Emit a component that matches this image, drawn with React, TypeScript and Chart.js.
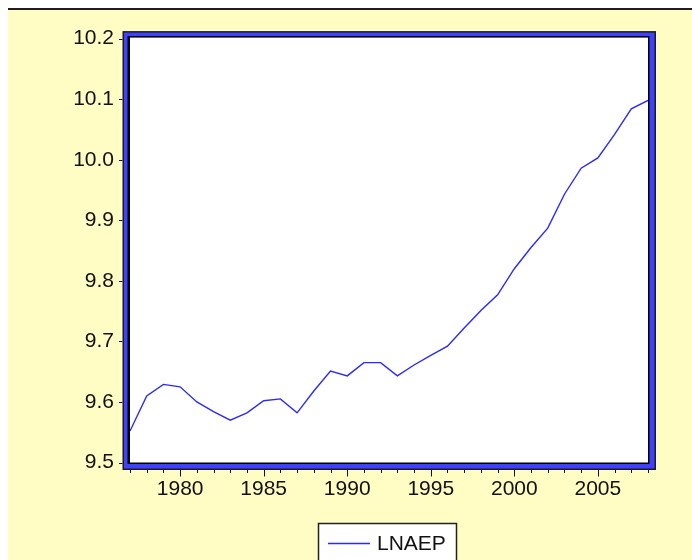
import React, { useEffect, useRef } from "react";
import { Chart, registerables } from "chart.js";

Chart.register(...registerables);

const years = [
  1977, 1978, 1979, 1980, 1981, 1982, 1983, 1984, 1985, 1986, 1987, 1988,
  1989, 1990, 1991, 1992, 1993, 1994, 1995, 1996, 1997, 1998, 1999, 2000,
  2001, 2002, 2003, 2004, 2005, 2006, 2007, 2008,
];
const lnaep = [
  9.552, 9.61, 9.629, 9.625, 9.6, 9.584, 9.57, 9.582, 9.602, 9.605, 9.582, 9.618,
  9.651, 9.643, 9.665, 9.665, 9.643, 9.661, 9.677, 9.692, 9.722, 9.751, 9.777, 9.82,
  9.855, 9.887, 9.943, 9.986, 10.003, 10.042, 10.084, 10.098,
];
const xTickLabels = [1980, 1985, 1990, 1995, 2000, 2005];
const yTickLabels = [9.5, 9.6, 9.7, 9.8, 9.9, 10.0, 10.1, 10.2];
const seriesName = "LNAEP";

const FONT = '"Liberation Sans", Arial, sans-serif';
const BLUE_LINE = "#2a2aff";
const BLUE_FRAME = "#4040ff";

const framePlugin = {
  id: "eviewsFrame",
  beforeDraw(chart: any) {
    const { ctx, chartArea } = chart;
    const { left, top, right, bottom } = chartArea;
    const oL = left - 7.5, oT = top - 7.5, oR = right + 8, oB = bottom + 7.5;
    ctx.save();
    // outer dark edge
    ctx.fillStyle = "#1c1c1c";
    ctx.fillRect(oL, oT, oR - oL, oB - oT);
    // blue band
    ctx.fillStyle = BLUE_FRAME;
    ctx.fillRect(oL + 1.5, oT + 1.5, oR - oL - 3, oB - oT - 3);
    // inner black
    ctx.fillStyle = "#000";
    ctx.fillRect(left - 2.5, top - 2.5, right - left + 4, bottom - top + 4);
    // white plot area
    ctx.fillStyle = "#fff";
    ctx.fillRect(left, top - 1, right - left, bottom - top + 1);

    // tick marks
    ctx.strokeStyle = "#111";
    ctx.lineWidth = 1;
    const ys = chart.scales.y;
    yTickLabels.forEach((v) => {
      const py = Math.round(ys.getPixelForValue(v)) + 0.5;
      ctx.beginPath();
      ctx.moveTo(oL - 3.5, py);
      ctx.lineTo(oL, py);
      ctx.stroke();
    });
    const xs = chart.scales.x;
    years.forEach((yr) => {
      const px = Math.round(xs.getPixelForValue(yr)) + 0.5;
      const major = xTickLabels.includes(yr);
      ctx.beginPath();
      ctx.moveTo(px, oB);
      ctx.lineTo(px, oB + (major ? 6.5 : 3));
      ctx.stroke();
    });
    ctx.restore();
  },
  afterDraw(chart: any) {
    const { ctx } = chart;
    ctx.save();
    // legend box
    const bx = 310.5, by = 513.5, bw = 138, bh = 60;
    ctx.fillStyle = "#fff";
    ctx.fillRect(bx, by, bw, bh);
    ctx.strokeStyle = "#222";
    ctx.lineWidth = 1.5;
    ctx.strokeRect(bx, by, bw, bh);
    ctx.strokeStyle = BLUE_LINE;
    ctx.lineWidth = 1.4;
    ctx.beginPath();
    ctx.moveTo(320, 533.5);
    ctx.lineTo(362, 533.5);
    ctx.stroke();
    ctx.fillStyle = "#111";
    ctx.font = `21px ${FONT}`;
    ctx.textAlign = "left";
    ctx.textBaseline = "middle";
    ctx.fillText(seriesName, 369, 534);
    ctx.restore();
  },
};

export default function App() {
  const ref = useRef<HTMLCanvasElement | null>(null);
  useEffect(() => {
    if (!ref.current) return;
    const chart = new Chart(ref.current, {
      type: "line",
      data: {
        datasets: [
          {
            label: seriesName,
            data: years.map((yr, i) => ({ x: yr, y: lnaep[i] })),
            borderColor: BLUE_LINE,
            borderWidth: 1.4,
            pointRadius: 0,
            tension: 0,
            fill: false,
          },
        ],
      },
      options: {
        animation: false,
        responsive: false,
        devicePixelRatio: 1,
        layout: { padding: { left: 0, right: 44, top: 28.5, bottom: 0 } },
        plugins: { legend: { display: false }, tooltip: { enabled: false } },
        scales: {
          x: {
            type: "linear",
            min: 1977,
            max: 2008,
            grid: { display: false, drawTicks: false },
            border: { display: false },
            afterBuildTicks: (s: any) => {
              s.ticks = xTickLabels.map((v) => ({ value: v }));
            },
            afterFit: (s: any) => {
              s.height = 97.5;
            },
            ticks: {
              color: "#111",
              padding: 14,
              maxRotation: 0,
              autoSkip: false,
              font: { family: FONT, size: 21 },
              callback: (v: any) => String(v),
            },
          },
          y: {
            type: "linear",
            min: 9.5,
            max: 10.2,
            grid: { display: false, drawTicks: false },
            border: { display: false },
            afterBuildTicks: (s: any) => {
              s.ticks = yTickLabels.map((v) => ({ value: v }));
            },
            afterFit: (s: any) => {
              s.width = 122;
            },
            ticks: {
              color: "#111",
              padding: 16,
              autoSkip: false,
              font: { family: FONT, size: 21 },
              callback: (v: any) => Number(v).toFixed(1),
            },
          },
        },
      },
      plugins: [framePlugin],
    });
    return () => chart.destroy();
  }, []);

  return (
    <div
      style={{
        position: "fixed",
        left: 8,
        top: 8,
        width: 684,
        height: 552,
        background: "#fffcc4",
        borderTop: "2px solid #1e1e1e",
        boxSizing: "border-box",
        overflow: "hidden",
      }}
    >
      <canvas ref={ref} width={684} height={550} style={{ display: "block" }} />
    </div>
  );
}
